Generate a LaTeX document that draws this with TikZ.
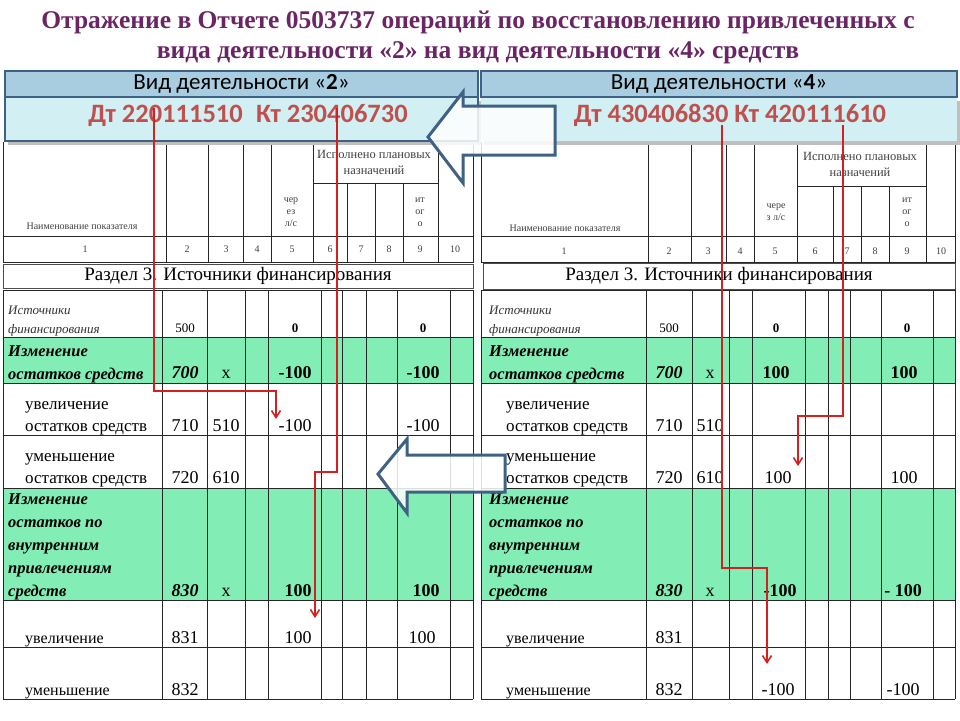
\documentclass[tikz,border=0pt]{standalone}
\usepackage{fontspec}
\setmainfont{Liberation Serif}
\newfontfamily\calfnt{Carlito}
\usetikzlibrary{arrows.meta}
\definecolor{ttl}{HTML}{6B2565}
\definecolor{barA}{HTML}{A8CDE0}
\definecolor{barB}{HTML}{D2F0F4}
\definecolor{barline}{HTML}{3F6184}
\definecolor{dtred}{HTML}{BF504D}
\definecolor{grn}{HTML}{82EDB5}
\definecolor{rl}{HTML}{D42020}
\tikzset{
 grid/.style={draw=black!85,line width=0.8pt},
 redl/.style={draw=rl,line width=1.6pt,-{Straight Barb[length=7pt,width=9pt]}},
 bigarrow/.style={draw=barline,line width=3pt,fill=white,fill opacity=0.85,line join=miter},
 tx/.style={anchor=base,inner sep=0pt,font=\fontsize{18}{18}\selectfont},
 bx/.style={anchor=base,inner sep=0pt,font=\fontsize{18}{18}\selectfont\bfseries},
 bi/.style={anchor=base,inner sep=0pt,font=\fontsize{18}{18}\selectfont\bfseries\itshape},
 lab/.style={anchor=base west,inner sep=0pt,align=left},
 sm/.style={anchor=center,inner sep=0pt,align=center,font=\fontsize{10}{12}\selectfont,text=black!75},
}
\begin{document}
\begin{tikzpicture}[x=1pt,y=-1pt]
\useasboundingbox (0,0) rectangle (960,720);
\fill[white] (0,0) rectangle (960,720);
\node[text=ttl,font=\fontsize{25.5}{30}\selectfont\bfseries,align=center] (title) at (478,37)
 {Отражение в Отчете 0503737 операций по восстановлению привлеченных с\\вида деятельности «2» на вид деятельности «4» средств};
\foreach \L/\R/\hc/\bc/\side in {3/473/{166,208,243,271,313,438}/{162,207,245,268,321,342,366,397,450}/L,
                                  481/955/{648,691,726,754,797,926}/{646,692,729,752,805,828,850,881,933}/R}{
  \draw[grid] (\L,142) -- (\L,262) -- (\R,262) -- (\R,142);
  \draw[grid] (\L,236) -- (\R,236);
  \foreach \c in \hc {\draw[grid] (\c,142) -- (\c,262);}
  \fill[grn] (\L,337) rectangle (\R,383);
  \fill[grn] (\L,488) rectangle (\R,600);
  \foreach \y in {290,337,383,435,488,600,647,699} {\draw[grid] (\L,\y) -- (\R,\y);}
  \draw[grid] (\L,290) -- (\L,699); \draw[grid] (\R,290) -- (\R,699);
  \foreach \c in \bc {\draw[grid] (\c,290) -- (\c,699);}
}
\draw[grid] (313,183) -- (438,183);
\foreach \c in {347,375,403} \draw[grid] (\c,183) -- (\c,262);
\draw[grid] (797,186) -- (926,186);
\foreach \c in {833,861,889} \draw[grid] (\c,186) -- (\c,262);
\node[draw=black!70,line width=1pt,fill=white,minimum width=470pt,minimum height=24pt,inner sep=0pt,font=\fontsize{19}{19}\selectfont] (razL) at (238,276) {Раздел 3. Источники финансирования};
\node[draw=black!70,line width=1pt,fill=white,minimum width=472pt,minimum height=26pt,inner sep=0pt,font=\fontsize{19}{19}\selectfont] (razR) at (719,276) {Раздел 3. Источники финансирования};
\node[sm] (hnL) at (82,226) {Наименование показателя};
\node[sm] (hnR) at (565,228) {Наименование показателя};
\node[sm,font=\fontsize{12.5}{16}\selectfont] (ispL) at (374,162) {Исполнено плановых\\назначений};
\node[sm,font=\fontsize{12.5}{16}\selectfont] (ispR) at (860,164) {Исполнено плановых\\назначений};
\node[sm] (c5L) at (291,212) {чер\\ез\\л/с};
\node[sm] (c9L) at (420,212) {ит\\ог\\о};
\node[sm] (c5R) at (776,212) {чере\\з л/с};
\node[sm] (c9R) at (907,212) {ит\\ог\\о};
\foreach \n/\x in {1/85,2/187,3/226,4/257,5/292,6/330,7/361,8/389,9/420,10/455}
  \node[sm] (nL\n) at (\x,249) {\n};
\foreach \n/\x in {1/564,2/669,3/708,4/740,5/775,6/815,7/847,8/875,9/907,10/941}
  \node[sm] (nR\n) at (\x,251) {\n};
\foreach \o/\cb/\cc/\cf/\cj in {0/185/226/295/423, 481/669/710/776/907}{
  \node[lab,font=\fontsize{13}{19}\selectfont\itshape,text=black!80] at (\o+8,333) {Источники\\финансирования};
  \node[tx,font=\fontsize{13}{13}\selectfont] at (\cb,332) {500};
  \node[bx,font=\fontsize{13}{13}\selectfont\bfseries] at (\cf,332) {0};
  \node[bx,font=\fontsize{13}{13}\selectfont\bfseries] at (\cj,332) {0};
  \node[lab,font=\fontsize{16.5}{23}\selectfont\bfseries\itshape] at (\o+8,379) {Изменение\\остатков средств};
  \node[bi] at (\cb,378) {700};
  \node[tx] at (\cc,378) {x};
  \node[lab,font=\fontsize{17}{22}\selectfont] at (\o+25,431) {увеличение\\остатков средств};
  \node[tx] at (\cb,431) {710};
  \node[tx] at (\cc,431) {510};
  \node[lab,font=\fontsize{17}{22}\selectfont] at (\o+25,483) {уменьшение\\остатков средств};
  \node[tx] at (\cb,483) {720};
  \node[tx] at (\cc,483) {610};
  \node[lab,font=\fontsize{16.5}{23}\selectfont\bfseries\itshape] at (\o+8,596) {Изменение\\остатков по\\внутренним\\привлечениям\\средств};
  \node[bi] at (\cb,596) {830};
  \node[tx] at (\cc,596) {x};
  \node[lab,font=\fontsize{16}{16}\selectfont] at (\o+25,643) {увеличение};
  \node[tx] at (\cb,643) {831};
  \node[lab,font=\fontsize{16}{16}\selectfont] at (\o+25,695) {уменьшение};
  \node[tx] at (\cb,695) {832};
}
\node[bx] (a1) at (295,378) {-100};
\node[bx] (a2) at (423,378) {-100};
\node[tx] (a3) at (295,431) {-100};
\node[tx] (a4) at (423,431) {-100};
\node[bx] (a5) at (298,596) {100};
\node[bx] (a6) at (426,596) {100};
\node[tx] (a7) at (298,643) {100};
\node[tx] (a8) at (422,643) {100};
\node[bx] (b1) at (776,378) {100};
\node[bx] (b2) at (904,378) {100};
\node[tx] (b3) at (778,483) {100};
\node[tx] (b4) at (904,483) {100};
\node[bx] (b5) at (780,596) {-100};
\node[bx] (b6) at (903,596) {- 100};
\node[tx] (b7) at (778,695) {-100};
\node[tx] (b8) at (903,695) {-100};
\fill[black!25] (8,101) rectangle (481,145);
\fill[black!25] (484,101) rectangle (960,145);
\node[draw=barline,line width=2pt,fill=barB,minimum width=473pt,minimum height=44pt,inner sep=0pt] (dL) at (241.5,119) {};
\node[draw=none,fill=barB,minimum width=476pt,minimum height=44pt,inner sep=0pt] (dR) at (719,119) {};
\node[font=\calfnt\fontsize{26.5}{26}\selectfont\bfseries,text=dtred] (tL) at (248,115) {Дт 220111510\enspace Кт 230406730};
\node[font=\calfnt\fontsize{26.5}{26}\selectfont\bfseries,text=dtred] (tR) at (730,115) {Дт 430406830 Кт 420111610};
\node[draw=barline,line width=2.5pt,fill=barA,minimum width=473pt,minimum height=26pt,inner sep=0pt,font=\calfnt\fontsize{23}{23}\selectfont] (vL) at (241.5,84) {Вид деятельности «\textbf{2}»};
\node[draw=barline,line width=2.5pt,fill=barA,minimum width=476pt,minimum height=26pt,inner sep=0pt,font=\calfnt\fontsize{23}{23}\selectfont] (vR) at (719,84) {Вид деятельности «\textbf{4}»};
\coordinate (s1) at (154,108); \coordinate (e1) at (276,419);
\coordinate (s2) at (337,108); \coordinate (e2) at (315,618);
\coordinate (s3) at (722,125); \coordinate (e3) at (767,664);
\coordinate (s4) at (843,125); \coordinate (e4) at (798,466);
\draw[redl] (s1) |- (276,391) -- (e1);
\draw[redl] (s2) |- (315,472) -- (e2);
\draw[redl] (s3) |- (767,568) -- (e3);
\draw[redl] (s4) |- (798,416) -- (e4);
\draw[bigarrow] (428,137) -- (463,92) -- (463,106) -- (555,106) -- (555,155) -- (463,155) -- (463,183) -- cycle;
\draw[bigarrow] (378,474) -- (407,439) -- (407,455) -- (505,455) -- (505,492) -- (407,492) -- (407,513) -- cycle;
\end{tikzpicture}
\end{document}
